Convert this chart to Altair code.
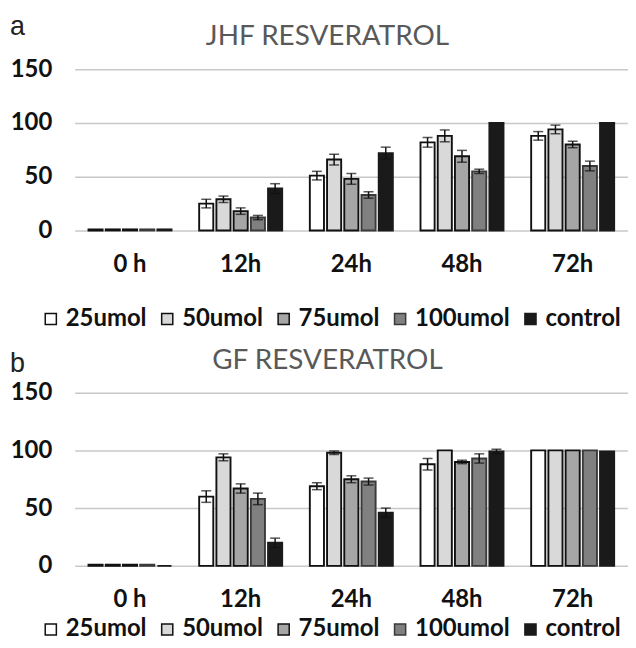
import altair as alt
import pandas as pd

times = ["0 h", "12h", "24h", "48h", "72h"]
groups = ["25umol", "50umol", "75umol", "100umol", "control"]
fills = ["#ffffff", "#d9d9d9", "#a6a6a6", "#808080", "#1a1a1a"]
strokes = ["#111111", "#111111", "#111111", "#3a3a3a", "#1a1a1a"]

# Panel a: JHF RESVERATROL (mean, error)
jhf_25 = [1, 25, 51, 82, 88]
jhf_50 = [1, 29, 66, 88, 94]
jhf_75 = [1, 18, 48, 69, 80]
jhf_100 = [1, 12, 33, 55, 60]
jhf_ctrl = [1, 39, 72, 100, 100]
jhf_25_err = [0, 4, 4, 4.5, 4]
jhf_50_err = [0, 3, 5, 5.5, 4]
jhf_75_err = [0, 3, 5, 5.5, 3]
jhf_100_err = [0, 2, 3, 2, 4.5]
jhf_ctrl_err = [0, 4.5, 5.5, 0, 0]

# Panel b: GF RESVERATROL
gf_25 = [1, 60, 69, 88, 100]
gf_50 = [1, 94, 98, 100, 100]
gf_75 = [1, 67, 75, 90, 100]
gf_100 = [1, 58, 73, 93, 100]
gf_ctrl = [0, 20, 46, 99, 99]
gf_25_err = [0, 5, 3, 5, 0]
gf_50_err = [0, 3, 1.5, 0, 0]
gf_75_err = [0, 4, 3, 1.5, 0]
gf_100_err = [0, 5, 3, 4, 0]
gf_ctrl_err = [0, 4, 4, 2, 0]


def make_df(vals, errs):
    rows = []
    for g, v, e in zip(groups, vals, errs):
        for t, vv, ee in zip(times, v, e):
            rows.append({"time": t, "group": g, "value": vv, "err": ee,
                         "lo": vv - ee, "hi": vv + ee})
    return pd.DataFrame(rows)


df_a = make_df([jhf_25, jhf_50, jhf_75, jhf_100, jhf_ctrl],
               [jhf_25_err, jhf_50_err, jhf_75_err, jhf_100_err, jhf_ctrl_err])
df_b = make_df([gf_25, gf_50, gf_75, gf_100, gf_ctrl],
               [gf_25_err, gf_50_err, gf_75_err, gf_100_err, gf_ctrl_err])

W = 556
FONT = "Lato"


def panel(df, title, letter, height, legend_y, letter_y):
    x = alt.X("time:N", sort=times, title=None,
              scale=alt.Scale(paddingInner=0.25, paddingOuter=0.125),
              axis=alt.Axis(labelAngle=0))
    xo = alt.XOffset("group:N", sort=groups,
                     scale=alt.Scale(paddingInner=0.18, paddingOuter=0))
    y = alt.Y("value:Q", title=None, scale=alt.Scale(domain=[0, 150], nice=False),
              axis=alt.Axis(values=[0, 50, 100, 150]))
    bars = alt.Chart(df).mark_bar(strokeWidth=1.9).encode(
        x=x, xOffset=xo, y=y,
        fill=alt.Fill("group:N", sort=groups,
                      scale=alt.Scale(domain=groups, range=fills),
                      legend=alt.Legend(orient="none", legendX=-36, legendY=legend_y,
                                        direction="horizontal", columns=5, title=None,
                                        symbolType="square", symbolSize=125,
                                        symbolStrokeColor="#111111", symbolStrokeWidth=1.5,
                                        labelFont=FONT, labelFontWeight="bold",
                                        labelFontSize=24, labelColor="#111111",
                                        labelOffset=3, columnPadding=8)),
        stroke=alt.Stroke("group:N", sort=groups,
                          scale=alt.Scale(domain=groups, range=strokes), legend=None),
    )
    edf = df[df["err"] > 0]
    rule = alt.Chart(edf).mark_rule(color="#111111", strokeWidth=1.5).encode(
        x=x, xOffset=xo, y=alt.Y("lo:Q", title=None), y2="hi:Q")
    cap_hi = alt.Chart(edf).mark_tick(color="#111111", thickness=1.5, size=10).encode(
        x=x, xOffset=xo, y=alt.Y("hi:Q", title=None))
    cap_lo = alt.Chart(edf).mark_tick(color="#111111", thickness=1.5, size=10).encode(
        x=x, xOffset=xo, y=alt.Y("lo:Q", title=None))
    ttl = alt.Chart(pd.DataFrame({"t": [title]})).mark_text(
        font=FONT, fontSize=28, color="#595959", align="center", baseline="alphabetic"
    ).encode(text="t:N", x=alt.value(254), y=alt.value(-24))
    let = alt.Chart(pd.DataFrame({"t": [letter]})).mark_text(
        font="Liberation Sans", fontSize=27, color="#222222", align="left",
        baseline="alphabetic"
    ).encode(text="t:N", x=alt.value(-65), y=alt.value(letter_y))
    return alt.layer(bars, rule, cap_hi, cap_lo, ttl, let).properties(
        width=W, height=height)


pa = panel(df_a, "JHF RESVERATROL", "a", 162, 239, -34)
pb = panel(df_b, "GF RESVERATROL", "b", 174, 226, -21)

chart = alt.vconcat(pa, pb, spacing=16, background="white").resolve_scale(
    fill="independent", stroke="independent"
).resolve_legend(fill="independent", stroke="independent").properties(
    padding={"left": 2, "top": 4, "right": 0, "bottom": 0}
).configure_view(stroke=None).configure_axisY(
    grid=True, gridColor="#c8c8c8", gridWidth=1.5, ticks=False, domain=False,
    labelPadding=23, labelFont=FONT, labelFontSize=24, labelFontWeight="bold",
    labelColor="#111111"
).configure_axisX(
    grid=False, ticks=False, domain=False, labelPadding=22, labelFont=FONT,
    labelFontSize=24, labelFontWeight="bold", labelColor="#111111"
)

chart.save("out.html", embed_options={"renderer": "svg", "actions": False})
